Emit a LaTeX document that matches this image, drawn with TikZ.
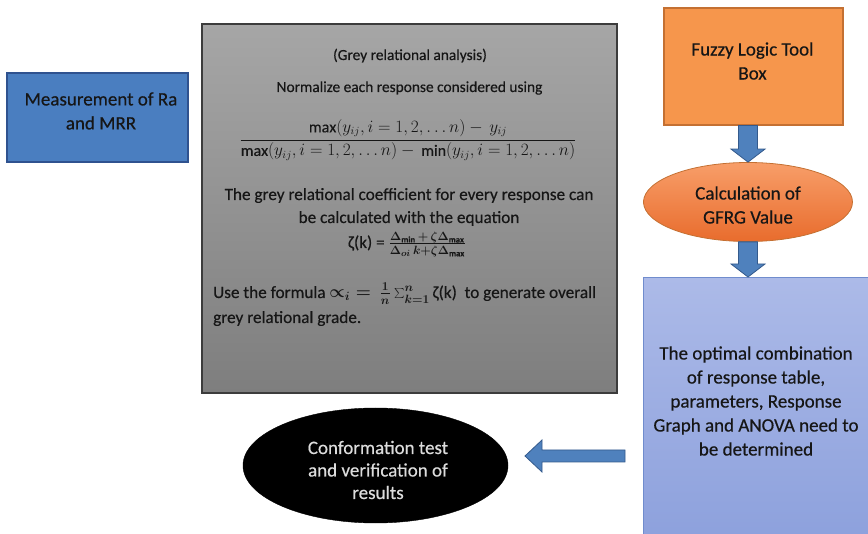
\documentclass[tikz,border=0pt]{standalone}
\usepackage{fontspec}
\setmainfont{Carlito}[FakeBold=0.4]
\usetikzlibrary{shapes.geometric,calc}
\definecolor{boxblue}{RGB}{74,126,192}
\definecolor{boxblueedge}{RGB}{47,82,143}
\definecolor{arrowblue}{RGB}{79,129,189}
\definecolor{arrowedge}{RGB}{52,90,140}
\definecolor{greytop}{RGB}{166,166,166}
\definecolor{greybot}{RGB}{126,126,126}
\definecolor{greyedge}{RGB}{60,60,60}
\definecolor{orangefill}{RGB}{246,150,76}
\definecolor{orangeedge}{RGB}{196,112,50}
\definecolor{elltop}{RGB}{248,158,105}
\definecolor{ellbot}{RGB}{232,108,45}
\definecolor{lbluetop}{RGB}{172,186,232}
\definecolor{lbluebot}{RGB}{140,160,220}
\definecolor{lblueedge}{RGB}{112,140,205}
\definecolor{txtdark}{RGB}{22,22,22}
\definecolor{txtlight}{RGB}{220,220,220}
\tikzset{
  shapebox/.style={draw, line width=1.2pt, rectangle, inner sep=0pt},
  labelsmall/.style={font=\fontsize{15.4}{18}\selectfont, text=txtdark, inner sep=0pt},
  labelmid/.style={font=\fontsize{17.2}{20}\selectfont, text=txtdark, inner sep=0pt},
  labelbig/.style={font=\fontsize{19}{24}\selectfont, text=txtdark, align=center, inner sep=0pt},
  blockarrow/.style={fill=arrowblue, draw=arrowedge, line width=0.8pt, line join=miter},
}
\begin{document}
\begin{tikzpicture}[x=1pt,y=-1pt]
\useasboundingbox (0,0) rectangle (868,534);
\begin{scope}
\clip (0,0) rectangle (868,534);
% Measurement box
\node[shapebox, fill=boxblue, draw=boxblueedge, minimum width=181, minimum height=89] (meas) at (97.5,117.5) {};
\node[labelbig] (meast) at (101,111) {Measurement of Ra\\and MRR};
% Grey box
\node[shapebox, top color=greytop, bottom color=greybot, draw=greyedge, minimum width=415, minimum height=369] (gra) at (409.5,208.5) {};
\node[labelsmall, anchor=base] (g1) at (410,60) {(Grey relational analysis)};
\node[labelsmall, anchor=base] (g2) at (409.5,92) {Normalize each response considered using};
\node[labelsmall, font=\fontsize{16}{18}\selectfont] (g3) at (408,140) {$\displaystyle\frac{\max\Bigl(y_{ij}, i=1,2,\ldots n\Bigr)-\,y_{ij}}{\max\Bigl(y_{ij}, i=1,2,\ldots n\Bigr)-\,\min\Bigl(y_{ij}, i=1,2,\ldots n\Bigr)}$};
\node[labelmid, anchor=base] (g4) at (409,200) {The grey relational coefficient for every response can};
\node[labelmid, anchor=base] (g5) at (409,223) {be calculated with the equation};
\node[labelmid, anchor=base, font=\fontsize{17.2}{20}\selectfont\boldmath] (g6) at (407,248) {ζ(k) = $\frac{\Delta_{\min}\,+\,\zeta\Delta_{\max}}{\Delta_{oi}\,k+\zeta\Delta_{\max}}$};
\node[labelmid, anchor=base west, font=\fontsize{17.2}{20}\selectfont\boldmath] (g7) at (213,298) {Use the formula $\propto_{i}\;=\,\frac{1}{n}\sum_{k=1}^{n}$\,ζ(k) \ to generate overall};
\node[labelmid, anchor=base west] (g8) at (213,323) {grey relational grade.};
% Fuzzy box
\node[shapebox, fill=orangefill, draw=orangeedge, minimum width=179, minimum height=117] (fuzzy) at (753.5,66.5) {};
\node[labelbig] (fuzzyt) at (752.5,61) {Fuzzy Logic Tool\\Box};
% GFRG ellipse
\node[ellipse, draw=orangeedge, line width=0.8pt, top color=elltop, bottom color=ellbot, minimum width=209, minimum height=79, inner sep=0pt] (gfrg) at (748,202) {};
\node[labelbig] (gfrgt) at (748,205) {Calculation of\\GFRG Value};
% Optimal box
\node[shapebox, top color=lbluetop, bottom color=lbluebot, draw=lblueedge, minimum width=240, minimum height=270, anchor=north west] (opt) at (643,277) {};
\node[labelbig] (optt) at (756,401) {The optimal combination\\of response table,\\parameters, Response\\Graph and ANOVA need to\\be determined};
% Conformation ellipse
\node[ellipse, fill=black, draw=black, minimum width=265, minimum height=115, inner sep=0pt] (conf) at (375.5,465.5) {};
\node[labelbig, text=txtlight, font=\fontsize{19}{22.5}\selectfont] (conft) at (378,470) {Conformation test\\and verification of\\results};
% Arrows
\draw[blockarrow] let \p1=(fuzzy.south), \p2=(gfrg.north) in
  (\x2-9.5pt,\y1) -- (\x2+9.5pt,\y1) -- (\x2+9.5pt,\y2+13pt) -- (\x2+17pt,\y2+13pt) -- (\x2,\y2) -- (\x2-17pt,\y2+13pt) -- (\x2-9.5pt,\y2+13pt) -- cycle;
\draw[blockarrow] let \p1=(gfrg.south), \p2=(opt.north) in
  (\x1-9.5pt,\y1) -- (\x1+9.5pt,\y1) -- (\x1+9.5pt,\y2+13pt) -- (\x1+17pt,\y2+13pt) -- (\x1,\y2) -- (\x1-17pt,\y2+13pt) -- (\x1-9.5pt,\y2+13pt) -- cycle;
\coordinate (la1) at (625,456);
\coordinate (la2) at (525,456);
\draw[blockarrow] let \p1=(la1), \p2=(la2) in
  (\x1,\y1+6pt) -- (\x1,\y1-6pt) -- (\x2+17pt,\y1-6pt) -- (\x2+17pt,\y1-16pt) -- (\x2,\y2) -- (\x2+17pt,\y1+16pt) -- (\x2+17pt,\y1+6pt) -- cycle;
\end{scope}
\end{tikzpicture}
\end{document}
